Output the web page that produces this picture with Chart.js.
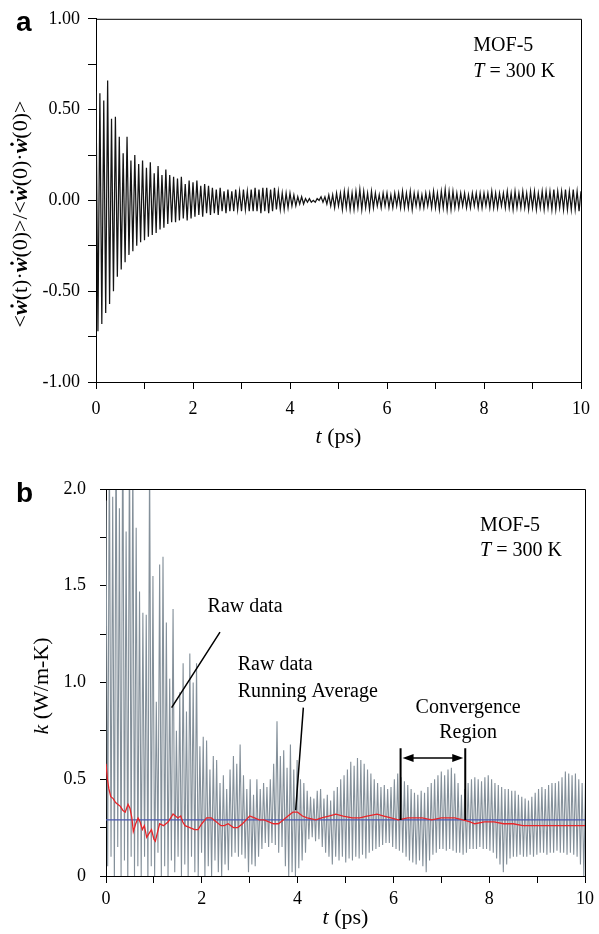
<!DOCTYPE html>
<html lang="en">
<head>
<meta charset="UTF-8">
<title>MOF-5 heat current autocorrelation and thermal conductivity</title>
<script src="https://cdn.jsdelivr.net/npm/chart.js"></script>
<style>
  body { margin: 0; background: #fff; }
  #wrap { position: relative; width: 599px; height: 934px; }
  .panel { position: absolute; left: 0; width: 599px; }
  #panelA { top: 0; height: 450px; }
  #panelB { top: 460px; height: 474px; }
</style>
</head>
<body>
<div id="wrap">
  <div class="panel" id="panelA"><canvas id="chartA" width="599" height="450"></canvas></div>
  <div class="panel" id="panelB"><canvas id="chartB" width="599" height="474"></canvas></div>
</div>
<script>
// ---- panel a: normalized autocorrelation, one value per half period ----
const DT_A = 0.04; // ps between samples
const hcacf = [
  0.60, -0.72, 0.59, -0.68, 0.55, -0.62, 0.66, -0.57, 0.45, -0.50,
  0.46, -0.42, 0.35, -0.38, 0.26, -0.34, 0.35, -0.30, 0.22, -0.28,
  0.25, -0.25, 0.20, -0.23, 0.22, -0.22, 0.18, -0.20, 0.21, -0.19,
  0.15, -0.18, 0.19, -0.16, 0.14, -0.15, 0.17, -0.13, 0.14, -0.12,
  0.13, -0.12, 0.12, -0.11, 0.13, -0.10, 0.09, -0.11, 0.11, -0.10,
  0.10, -0.09, 0.11, -0.08, 0.08, -0.09, 0.09, -0.07, 0.08, -0.08,
  0.07, -0.07, 0.06, -0.08, 0.07, -0.06, 0.05, -0.07, 0.06, -0.06,
  0.05, -0.06, 0.06, -0.05, 0.05, -0.06, 0.06, -0.05, 0.05, -0.06,
  0.06, -0.06, 0.07, -0.06, 0.06, -0.07, 0.07, -0.06, 0.07, -0.07,
  0.06, -0.06, 0.07, -0.05, 0.05, -0.05, 0.04, -0.05, 0.04, -0.04,
  0.04, -0.03, 0.03, -0.03, 0.02, -0.02, 0.02, -0.02, 0.01, -0.01,
  0.01, -0.01, 0.00, -0.01, 0.01, 0.00, 0.02, -0.01, 0.02, -0.02,
  0.03, -0.03, 0.03, -0.04, 0.04, -0.03, 0.04, -0.05, 0.05, -0.04,
  0.05, -0.05, 0.04, -0.05, 0.05, -0.04, 0.06, -0.05, 0.05, -0.04,
  0.04, -0.05, 0.05, -0.04, 0.04, -0.03, 0.03, -0.04, 0.04, -0.03,
  0.04, -0.04, 0.03, -0.04, 0.04, -0.03, 0.04, -0.04, 0.05, -0.04,
  0.04, -0.04, 0.05, -0.05, 0.04, -0.03, 0.04, -0.04, 0.03, -0.04,
  0.04, -0.03, 0.04, -0.04, 0.05, -0.04, 0.04, -0.05, 0.05, -0.04,
  0.06, -0.05, 0.05, -0.05, 0.05, -0.04, 0.04, -0.04, 0.04, -0.03,
  0.04, -0.04, 0.03, -0.04, 0.04, -0.03, 0.04, -0.04, 0.04, -0.04,
  0.04, -0.03, 0.04, -0.04, 0.05, -0.04, 0.04, -0.04, 0.04, -0.03,
  0.04, -0.04, 0.05, -0.04, 0.04, -0.05, 0.05, -0.04, 0.04, -0.04,
  0.05, -0.04, 0.04, -0.05, 0.05, -0.04, 0.05, -0.05, 0.04, -0.04,
  0.05, -0.05, 0.05, -0.04, 0.05, -0.05, 0.06, -0.05, 0.05, -0.04,
  0.05, -0.05, 0.06, -0.05, 0.05, -0.05, 0.06, -0.05, 0.05, -0.06,
  0.05
];
const yLabelsA = [-1, -0.5, 0, 0.5, 1];

// ---- panel b: thermal conductivity (W/m-K) ----
const DT_B = 0.035;
const kRaw = [
  1.94, 0.05, 2.30, 0.10, 1.96, -0.05, 2.40, 0.15, 1.90, 0.00, 2.50, 0.08, 1.78, -0.05, 2.30, 0.10, 2.20, 0.00, 1.80, 0.05,
  1.47, 0.00, 1.36, 0.10, 1.35, -0.05, 2.20, 0.05, 1.55, 0.00, 0.90, 0.12, 1.61, 0.00, 1.65, 0.05, 1.31, 0.00, 1.02, 0.08,
  1.38, 0.02, 0.75, 0.10, 0.95, 0.00, 1.10, 0.06, 0.85, 0.00, 1.15, 0.10, 1.00, 0.02, 1.10, 0.00, 0.67, 0.12, 0.72, 0.00,
  0.70, 0.05, 0.55, 0.00, 0.62, 0.08, 0.60, 0.02, 0.48, 0.00, 0.52, 0.06, 0.45, 0.03, 0.55, 0.10, 0.62, 0.12, 0.58, 0.10,
  0.68, 0.11, 0.52, 0.09, 0.45, 0.02, 0.50, 0.06, 0.42, 0.05, 0.50, 0.10, 0.45, 0.14, 0.48, 0.17, 0.46, 0.15, 0.50, 0.17,
  0.58, 0.16, 0.80, 0.12, 0.62, 0.15, 0.65, 0.05, 0.56, 0.00, 0.68, 0.02, 0.55, 0.00, 0.60, 0.04, 0.50, 0.08, 0.48, 0.12,
  0.44, 0.19, 0.41, 0.20, 0.40, 0.18, 0.44, 0.19, 0.45, 0.15, 0.40, 0.12, 0.42, 0.10, 0.39, 0.06, 0.44, 0.10, 0.46, 0.08,
  0.50, 0.10, 0.52, 0.07, 0.55, 0.09, 0.59, 0.08, 0.57, 0.10, 0.61, 0.09, 0.60, 0.11, 0.58, 0.09, 0.55, 0.12, 0.53, 0.13,
  0.50, 0.14, 0.48, 0.15, 0.46, 0.16, 0.47, 0.17, 0.45, 0.17, 0.46, 0.15, 0.50, 0.14, 0.53, 0.13, 0.51, 0.12, 0.49, 0.10,
  0.47, 0.08, 0.45, 0.07, 0.43, 0.06, 0.42, 0.08, 0.44, 0.05, 0.43, 0.02, 0.46, 0.08, 0.48, 0.11, 0.50, 0.12, 0.52, 0.14,
  0.54, 0.14, 0.52, 0.13, 0.55, 0.14, 0.56, 0.13, 0.53, 0.12, 0.48, 0.12, 0.42, 0.11, 0.45, 0.12, 0.48, 0.14, 0.50, 0.14,
  0.51, 0.14, 0.50, 0.15, 0.49, 0.14, 0.51, 0.14, 0.52, 0.13, 0.50, 0.12, 0.48, 0.09, 0.47, 0.06, 0.46, 0.02, 0.45, 0.06,
  0.45, 0.09, 0.44, 0.10, 0.44, 0.10, 0.42, 0.11, 0.41, 0.10, 0.40, 0.10, 0.39, 0.11, 0.41, 0.10, 0.43, 0.11, 0.45, 0.12,
  0.46, 0.12, 0.45, 0.11, 0.47, 0.12, 0.48, 0.12, 0.48, 0.13, 0.49, 0.12, 0.51, 0.12, 0.54, 0.11, 0.53, 0.12, 0.52, 0.11,
  0.53, 0.10, 0.50, 0.06, 0.48, 0.00, 0.48
];
const avgTime = [0, 0.03, 0.06, 0.1, 0.15, 0.2, 0.25, 0.3, 0.35, 0.4,
  0.46, 0.5, 0.54, 0.57, 0.62, 0.67, 0.71, 0.76, 0.8, 0.85,
  0.9, 0.95, 1.0, 1.03, 1.07, 1.12, 1.2, 1.3, 1.4, 1.45,
  1.5, 1.56, 1.6, 1.65, 1.75, 1.85, 1.92, 2.0, 2.1, 2.2,
  2.3, 2.4, 2.47, 2.55, 2.66, 2.75, 2.85, 3.0, 3.1, 3.2,
  3.3, 3.4, 3.5, 3.6, 3.7, 3.8, 3.9, 4.0, 4.1, 4.2,
  4.38, 4.5, 4.65, 4.8, 4.95, 5.14, 5.3, 5.45, 5.66, 5.8,
  5.95, 6.1, 6.3, 6.45, 6.6, 6.8, 7.0, 7.1, 7.28, 7.45,
  7.6, 7.7, 7.9, 8.1, 8.3, 8.5, 8.7, 8.9, 9.1, 9.4, 9.7, 10];
const avgK = [0.58, 0.50, 0.45, 0.41, 0.40, 0.38, 0.37, 0.36, 0.34, 0.33,
  0.37, 0.35, 0.30, 0.23, 0.27, 0.30, 0.28, 0.24, 0.26, 0.20,
  0.22, 0.24, 0.19, 0.18, 0.22, 0.27, 0.26, 0.28, 0.32, 0.31,
  0.30, 0.31, 0.28, 0.26, 0.25, 0.24, 0.24, 0.27, 0.30, 0.30,
  0.28, 0.26, 0.26, 0.27, 0.25, 0.25, 0.27, 0.31, 0.30, 0.29,
  0.29, 0.28, 0.27, 0.27, 0.29, 0.31, 0.33, 0.33, 0.31, 0.30,
  0.29, 0.30, 0.31, 0.32, 0.31, 0.30, 0.30, 0.31, 0.32, 0.31,
  0.30, 0.29, 0.30, 0.30, 0.30, 0.29, 0.30, 0.30, 0.30, 0.29,
  0.28, 0.27, 0.28, 0.28, 0.27, 0.27, 0.26, 0.26, 0.26, 0.26, 0.26, 0.26];
const kConverged = 0.29;
const convergeFrom = 6.15, convergeTo = 7.5;
const yLabelsB = [0, 0.5, 1, 1.5, 2];
const xLabels = [0, 2, 4, 6, 8, 10];

// ---- shared bits ----
const SERIF = '"Liberation Serif", "Times New Roman", serif';
const near = (arr, v) => arr.some(a => Math.abs(a - v) < 1e-6);

function xAxis(height, pad) {
  return {
    type: 'linear', min: 0, max: 10,
    afterFit: s => { s.height = height; },
    ticks: {
      stepSize: 1, color: '#000', padding: pad, maxRotation: 0,
      font: { family: SERIF, size: 18 },
      callback: v => near(xLabels, v) ? String(v) : ''
    },
    grid: { drawOnChartArea: false, tickLength: 7, color: '#000' },
    border: { color: '#000', width: 1 }
  };
}

// draws a row of text pieces: [text, font, dotAbove]
function rich(ctx, parts, x, y, align) {
  let w = 0;
  parts.forEach(p => { ctx.font = p[1]; w += ctx.measureText(p[0]).width; });
  let cx = align === 'center' ? x - w / 2 : x;
  ctx.textAlign = 'left';
  ctx.textBaseline = 'middle';
  parts.forEach(p => {
    ctx.font = p[1];
    const pw = ctx.measureText(p[0]).width;
    ctx.fillText(p[0], cx, y);
    if (p[2]) {
      ctx.beginPath();
      ctx.arc(cx + pw * 0.62, y - 9, 1.7, 0, Math.PI * 2);
      ctx.fill();
    }
    cx += pw;
  });
}

function frame(ctx, a) {
  ctx.strokeStyle = '#000';
  ctx.lineWidth = 1;
  ctx.beginPath();
  ctx.moveTo(a.left, a.top + 0.5);
  ctx.lineTo(a.right + 0.5, a.top + 0.5);
  ctx.lineTo(a.right + 0.5, a.bottom);
  ctx.stroke();
}

const reg = s => s + 'px ' + SERIF;
const ital = s => 'italic ' + s + 'px ' + SERIF;
const bi = s => 'bold italic ' + s + 'px ' + SERIF;

// ---- panel a ----
const textA = {
  id: 'textA',
  afterDraw(chart) {
    const ctx = chart.ctx, a = chart.chartArea;
    const sx = chart.scales.x, sy = chart.scales.y;
    ctx.save();
    frame(ctx, a);
    ctx.fillStyle = '#000';
    ctx.font = 'bold 28px "Liberation Sans", Arial, sans-serif';
    ctx.textAlign = 'left';
    ctx.textBaseline = 'alphabetic';
    ctx.fillText('a', 16, 31);

    rich(ctx, [['MOF-5', reg(20)]], sx.getPixelForValue(7.78), sy.getPixelForValue(0.85), 'left');
    rich(ctx, [['T', ital(20)], [' = 300 K', reg(20)]], sx.getPixelForValue(7.78), sy.getPixelForValue(0.71), 'left');

    rich(ctx, [['t', ital(22)], [' (ps)', reg(22)]], (a.left + a.right) / 2, 437, 'center');

    ctx.translate(21, 214);
    ctx.rotate(-Math.PI / 2);
    const f = reg(22), w = bi(22);
    rich(ctx, [
      ['<', f], ['w', w, true], ['(t)·', f], ['w', w, true], ['(0)>/<', f],
      ['w', w, true], ['(0)·', f], ['w', w, true], ['(0)>', f]
    ], 0, 0, 'center');
    ctx.restore();
  }
};

new Chart(document.getElementById('chartA'), {
  type: 'line',
  data: {
    datasets: [{
      data: hcacf.map((v, i) => ({ x: i * DT_A, y: v })),
      borderColor: '#141414',
      borderWidth: 1.25,
      pointRadius: 0,
      tension: 0
    }]
  },
  options: {
    responsive: false,
    animation: false,
    layout: { padding: { top: 18, right: 11, left: 0, bottom: 0 } },
    plugins: { legend: { display: false }, tooltip: { enabled: false } },
    scales: {
      x: xAxis(68, 9),
      y: {
        min: -1, max: 1,
        afterFit: s => { s.width = 96; },
        ticks: {
          stepSize: 0.25, color: '#000', padding: 8,
          font: { family: SERIF, size: 18 },
          callback: v => near(yLabelsA, v) ? v.toFixed(2) : ''
        },
        grid: { drawOnChartArea: false, tickLength: 8, color: '#000' },
        border: { color: '#000', width: 1 }
      }
    }
  },
  plugins: [textA]
});

// ---- panel b ----
const textB = {
  id: 'textB',
  afterDraw(chart) {
    const ctx = chart.ctx, a = chart.chartArea;
    const sx = chart.scales.x, sy = chart.scales.y;
    const px = t => sx.getPixelForValue(t), py = k => sy.getPixelForValue(k);
    ctx.save();
    frame(ctx, a);
    ctx.fillStyle = '#000';
    ctx.strokeStyle = '#000';
    ctx.font = 'bold 28px "Liberation Sans", Arial, sans-serif';
    ctx.textAlign = 'left';
    ctx.textBaseline = 'alphabetic';
    ctx.fillText('b', 16, 42);

    rich(ctx, [['MOF-5', reg(20)]], px(7.81), py(1.81), 'left');
    rich(ctx, [['T', ital(20)], [' = 300 K', reg(20)]], px(7.81), py(1.68), 'left');
    rich(ctx, [['Raw data', reg(20)]], px(2.12), py(1.39), 'left');
    rich(ctx, [['Raw data', reg(20)]], px(2.75), py(1.09), 'left');
    rich(ctx, [['Running Average', reg(20)]], px(2.75), py(0.95), 'left');
    rich(ctx, [['Convergence', reg(20)]], px(7.56), py(0.87), 'center');
    rich(ctx, [['Region', reg(20)]], px(7.56), py(0.74), 'center');

    // pointer lines
    ctx.lineWidth = 1.5;
    ctx.beginPath();
    ctx.moveTo(px(2.38), py(1.26)); ctx.lineTo(px(1.37), py(0.87));
    ctx.moveTo(px(4.12), py(0.87)); ctx.lineTo(px(3.96), py(0.34));
    ctx.stroke();

    // convergence bracket
    ctx.lineWidth = 2;
    ctx.beginPath();
    [convergeFrom, convergeTo].forEach(t => {
      ctx.moveTo(px(t), py(0.66)); ctx.lineTo(px(t), py(0.29));
    });
    ctx.stroke();
    const ay = py(0.61), x1 = px(convergeFrom) + 2, x2 = px(convergeTo) - 2;
    ctx.lineWidth = 1.5;
    ctx.beginPath();
    ctx.moveTo(x1 + 8, ay); ctx.lineTo(x2 - 8, ay);
    ctx.stroke();
    ctx.beginPath();
    ctx.moveTo(x1, ay); ctx.lineTo(x1 + 11, ay - 4); ctx.lineTo(x1 + 11, ay + 4); ctx.closePath();
    ctx.moveTo(x2, ay); ctx.lineTo(x2 - 11, ay - 4); ctx.lineTo(x2 - 11, ay + 4); ctx.closePath();
    ctx.fill();

    rich(ctx, [['t', ital(22)], [' (ps)', reg(22)]], (a.left + a.right) / 2, 458, 'center');

    ctx.translate(42, 226);
    ctx.rotate(-Math.PI / 2);
    rich(ctx, [['k', ital(22)], [' (W/m-K)', reg(22)]], 0, 0, 'center');
    ctx.restore();
  }
};

new Chart(document.getElementById('chartB'), {
  type: 'line',
  data: {
    datasets: [
      {
        data: avgTime.map((t, i) => ({ x: t, y: avgK[i] })),
        borderColor: '#e8262a', borderWidth: 1.3, pointRadius: 0, tension: 0, order: 1
      },
      {
        data: [{ x: 0, y: kConverged }, { x: 10, y: kConverged }],
        borderColor: '#4a58b0', borderWidth: 1.2, pointRadius: 0, order: 2
      },
      {
        data: kRaw.map((v, i) => ({ x: i * DT_B, y: v })),
        borderColor: '#84909a', borderWidth: 1.1, pointRadius: 0, tension: 0, order: 3
      }
    ]
  },
  options: {
    responsive: false,
    animation: false,
    layout: { padding: { top: 29, right: 12, left: 0, bottom: 0 } },
    plugins: { legend: { display: false }, tooltip: { enabled: false } },
    scales: {
      x: xAxis(58, 5),
      y: {
        min: 0, max: 2,
        afterFit: s => { s.width = 106; },
        ticks: {
          stepSize: 0.25, color: '#000', padding: 14,
          font: { family: SERIF, size: 18 },
          callback: v => near(yLabelsB, v) ? (v === 0 ? '0' : v.toFixed(1)) : ''
        },
        grid: { drawOnChartArea: false, tickLength: 6, color: '#000' },
        border: { color: '#000', width: 1 }
      }
    }
  },
  plugins: [textB]
});
</script>
</body>
</html>
